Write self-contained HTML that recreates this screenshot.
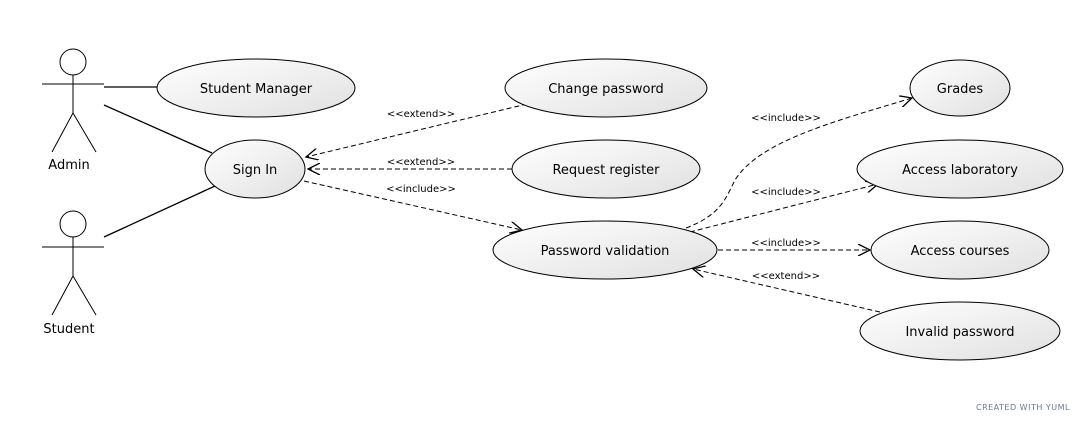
<!DOCTYPE html>
<html><head><meta charset="utf-8"><style>
html,body{margin:0;padding:0;background:#fff;}
svg{display:block;font-family:"DejaVu Sans","Liberation Sans",sans-serif;}
</style></head><body>
<svg width="1088" height="423" viewBox="0 0 1088 423" xmlns="http://www.w3.org/2000/svg">
<defs>
<linearGradient id="g" x1="0" y1="0" x2="1" y2="1">
<stop offset="0" stop-color="#ffffff"/><stop offset="1" stop-color="#e0e0e0"/>
</linearGradient>
<marker id="a" markerWidth="14" markerHeight="12" refX="12" refY="6" orient="auto" markerUnits="userSpaceOnUse">
<path d="M0,0 L12,6 L0,12" fill="none" stroke="#000" stroke-width="1.3"/>
</marker>
</defs>
<rect width="1088" height="423" fill="#fff"/>
<g stroke="#000" stroke-width="1" fill="none">
<!-- Admin -->
<circle cx="73" cy="62" r="13"/>
<line x1="42" y1="84" x2="104" y2="84"/>
<line x1="73" y1="75" x2="73" y2="113"/>
<line x1="73" y1="113" x2="52" y2="152"/>
<line x1="73" y1="113" x2="96" y2="152"/>
<!-- Student -->
<circle cx="73" cy="224" r="13"/>
<line x1="42" y1="247" x2="104" y2="247"/>
<line x1="73" y1="237" x2="73" y2="276"/>
<line x1="73" y1="276" x2="52" y2="315"/>
<line x1="73" y1="276" x2="96" y2="315"/>
<!-- associations -->
<line x1="104" y1="87" x2="157" y2="87" stroke-width="1.3"/>
<path d="M104,105 Q160,130 212,153" stroke-width="1.3"/>
<line x1="104" y1="237" x2="215" y2="186" stroke-width="1.3"/>
</g>
<g stroke="#000" stroke-width="1" fill="none" stroke-dasharray="5,3">
<line x1="527" y1="104" x2="306" y2="157" marker-end="url(#a)"/>
<line x1="512" y1="169" x2="308" y2="169" marker-end="url(#a)"/>
<line x1="304" y1="181" x2="522" y2="230" marker-end="url(#a)"/>
<path d="M686,228 C720,215 725,200 735,180 C760,140 840,120 912,98" marker-end="url(#a)"/>
<line x1="690" y1="232" x2="878" y2="184" marker-end="url(#a)"/>
<line x1="718" y1="250" x2="870" y2="250" marker-end="url(#a)"/>
<line x1="880" y1="312" x2="693" y2="269" marker-end="url(#a)"/>
</g>
<g stroke="#000" stroke-width="1" fill="url(#g)">
<ellipse cx="256" cy="88" rx="99" ry="29"/>
<ellipse cx="255" cy="169" rx="50" ry="29"/>
<ellipse cx="606" cy="88" rx="101" ry="29"/>
<ellipse cx="606" cy="169" rx="94" ry="29"/>
<ellipse cx="605" cy="250" rx="112" ry="29"/>
<ellipse cx="960" cy="88" rx="50" ry="28"/>
<ellipse cx="960" cy="169" rx="103" ry="29"/>
<ellipse cx="960" cy="250" rx="89" ry="29"/>
<ellipse cx="960" cy="331" rx="100" ry="29"/>
</g>
<g font-size="13" text-anchor="middle" fill="#000">
<text x="256" y="93">Student Manager</text>
<text x="255" y="174">Sign In</text>
<text x="606" y="93">Change password</text>
<text x="606" y="174">Request register</text>
<text x="605" y="255">Password validation</text>
<text x="960" y="93">Grades</text>
<text x="960" y="174">Access laboratory</text>
<text x="960" y="255">Access courses</text>
<text x="960" y="336">Invalid password</text>
<text x="69" y="169">Admin</text>
<text x="69" y="333">Student</text>
</g>
<g font-size="10" text-anchor="middle" fill="#000">
<text x="421" y="117">&lt;&lt;extend&gt;&gt;</text>
<text x="421" y="165">&lt;&lt;extend&gt;&gt;</text>
<text x="421" y="192">&lt;&lt;include&gt;&gt;</text>
<text x="786" y="121">&lt;&lt;include&gt;&gt;</text>
<text x="786" y="195">&lt;&lt;include&gt;&gt;</text>
<text x="786" y="246">&lt;&lt;include&gt;&gt;</text>
<text x="786" y="279">&lt;&lt;extend&gt;&gt;</text>
</g>
<text x="1070" y="410" font-size="8" fill="#6a7a90" text-anchor="end" letter-spacing="0.5">CREATED WITH YUML</text>
</svg>
</body></html>
